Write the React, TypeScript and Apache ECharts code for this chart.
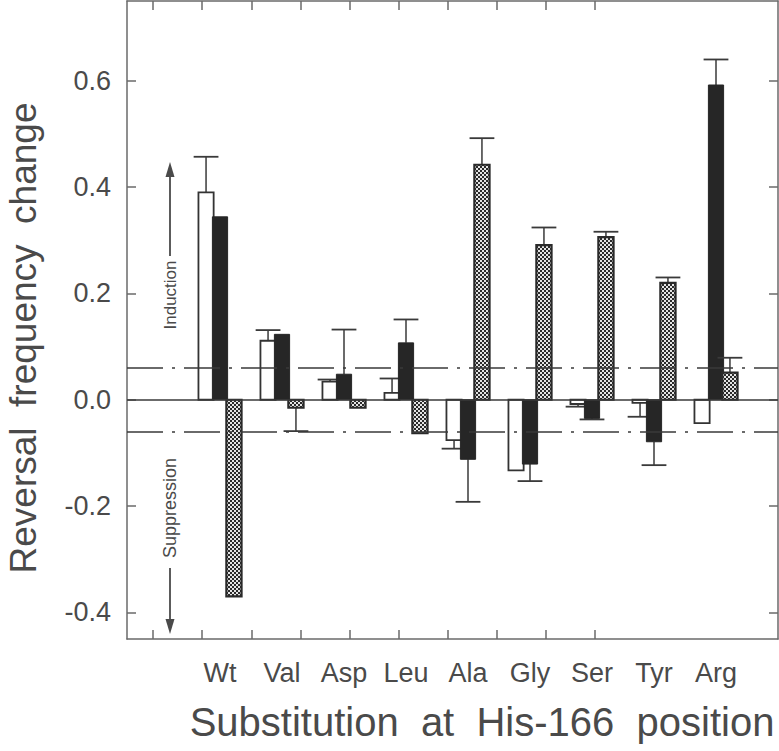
import React, { useEffect, useRef } from "react";
import * as echarts from "echarts";

const categories = ["Wt", "Val", "Asp", "Leu", "Ala", "Gly", "Ser", "Tyr", "Arg"];
const openValues = [0.39, 0.111, 0.034, 0.013, -0.076, -0.133, -0.008, -0.006, -0.044];
const openErrors = [0.067, 0.02, 0.004, 0.027, 0.016, null, 0.005, 0.026, null];
const solidValues = [0.344, 0.123, 0.048, 0.107, -0.112, -0.121, -0.035, -0.079, 0.592];
const solidErrors = [null, null, 0.084, 0.044, 0.08, 0.032, 0.002, 0.044, 0.048];
const hatchedValues = [-0.37, -0.015, -0.015, -0.063, 0.442, 0.291, 0.306, 0.22, 0.051];
const hatchedErrors = [null, 0.044, null, null, 0.05, 0.033, 0.01, 0.01, 0.028];
const yTickValues = [-0.4, -0.2, 0, 0.2, 0.4, 0.6];
const xTickPositions = [-0.08, 0.71, 1.51, 2.3, 3.09, 3.88, 4.68, 5.47, 6.26, 7.05];
const thresholds = [0.06, -0.06];

const FONT = "'Liberation Sans', Arial, sans-serif";
const TEXT = "#4a4a4a";
const AXIS = "#6a6a6a";
const DARK = "#262626";

function makePattern(): string {
  const c = document.createElement("canvas");
  c.width = 4;
  c.height = 4;
  const ctx = c.getContext("2d")!;
  ctx.fillStyle = "#2a2a2a";
  ctx.fillRect(0, 0, 4, 4);
  ctx.fillStyle = "#e4e4e4";
  ctx.fillRect(0, 0, 2, 2);
  ctx.fillRect(2, 2, 2, 2);
  return c.toDataURL();
}

const BAR_W = 0.245;
const CAP_W = 0.4;

function barSeries(
  name: string,
  values: number[],
  errors: (number | null)[],
  offset: number,
  fill: any,
  stroke: string,
  lineWidth: number
) {
  return {
    type: "custom",
    name,
    xAxisIndex: 0,
    yAxisIndex: 0,
    data: values.map((v, i) => [i + 1, v]),
    renderItem: (params: any, api: any) => {
      const x = api.value(0) + offset;
      const v = api.value(1);
      const p0 = api.coord([x, 0]);
      const p1 = api.coord([x, v]);
      const w = api.size([BAR_W, 0])[0];
      const capW = api.size([CAP_W, 0])[0];
      const children: any[] = [];
      const err = errors[params.dataIndex];
      if (err != null) {
        const pe = api.coord([x, v + Math.sign(v) * err]);
        children.push({
          type: "line",
          shape: { x1: p1[0], y1: p1[1], x2: pe[0], y2: pe[1] },
          style: { stroke: "#3a3a3a", lineWidth: 1.5 },
        });
        children.push({
          type: "line",
          shape: { x1: pe[0] - capW / 2, y1: pe[1], x2: pe[0] + capW / 2, y2: pe[1] },
          style: { stroke: "#3a3a3a", lineWidth: 1.8 },
        });
      }
      children.push({
        type: "rect",
        shape: {
          x: p0[0] - w / 2,
          y: Math.min(p0[1], p1[1]),
          width: w,
          height: Math.abs(p1[1] - p0[1]),
        },
        style: { fill, stroke, lineWidth },
      });
      return { type: "group", children };
    },
  };
}

export default function App() {
  const ref = useRef<HTMLDivElement>(null);
  useEffect(() => {
    if (!ref.current) return;
    const chart = echarts.init(ref.current, null, { renderer: "svg" });
    const pattern = { image: makePattern(), repeat: "repeat" };
    const axisLine = { show: true, onZero: false, lineStyle: { color: AXIS, width: 1.5 } };
    const tick = { show: true, inside: true, length: 9, lineStyle: { color: AXIS, width: 1.5 } };
    chart.setOption({
      animation: false,
      grid: { left: 127, right: 1, top: 1, bottom: 112, containLabel: false },
      xAxis: [
        {
          type: "value",
          min: -0.5,
          max: 10,
          position: "bottom",
          axisLine,
          axisTick: { ...tick, customValues: xTickPositions },
          axisLabel: {
            customValues: categories.map((_, i) => i + 1),
            formatter: (v: number) => categories[Math.round(v) - 1] ?? "",
            color: TEXT,
            fontFamily: FONT,
            fontSize: 27,
            margin: 20,
          },
          splitLine: { show: false },
        },
        {
          type: "value",
          min: -0.5,
          max: 10,
          position: "top",
          axisLine,
          axisTick: { ...tick, customValues: xTickPositions },
          axisLabel: { show: false },
          splitLine: { show: false },
        },
      ],
      yAxis: [
        {
          type: "value",
          min: -0.45,
          max: 0.75,
          position: "left",
          axisLine,
          axisTick: { ...tick, customValues: yTickValues },
          axisLabel: {
            customValues: yTickValues,
            formatter: (v: number) => v.toFixed(1),
            color: TEXT,
            fontFamily: FONT,
            fontSize: 27,
            margin: 16,
          },
          splitLine: { show: false },
        },
        {
          type: "value",
          min: -0.45,
          max: 0.75,
          position: "right",
          axisLine,
          axisTick: { ...tick, customValues: yTickValues },
          axisLabel: { show: false },
          splitLine: { show: false },
        },
      ],
      series: [
        {
          type: "line",
          data: [],
          xAxisIndex: 0,
          yAxisIndex: 0,
          markLine: {
            silent: true,
            symbol: ["none", "none"],
            label: { show: false },
            data: [
              { yAxis: 0, lineStyle: { type: "solid", color: "#3a3a3a", width: 1.5 } },
              ...thresholds.map((t) => ({
                yAxis: t,
                lineStyle: { type: [36, 9, 3, 9], color: "#3a3a3a", width: 1.5 },
              })),
            ],
          },
        },
        barSeries("open", openValues, openErrors, -0.225, "#ffffff", "#333333", 1.8),
        barSeries("solid", solidValues, solidErrors, 0, DARK, DARK, 1),
        barSeries("hatched", hatchedValues, hatchedErrors, 0.225, pattern, "#2a2a2a", 2.2),
      ],
      graphic: [
        {
          type: "text",
          x: 23,
          y: 338,
          rotation: Math.PI / 2,
          style: {
            text: "Reversal  frequency  change",
            fill: TEXT,
            font: `37px ${FONT}`,
            textAlign: "center",
            textVerticalAlign: "middle",
          },
        },
        {
          type: "text",
          x: 482,
          y: 722,
          style: {
            text: "Substitution  at  His-166  position",
            fill: TEXT,
            font: `40px ${FONT}`,
            textAlign: "center",
            textVerticalAlign: "middle",
          },
        },
        {
          type: "text",
          x: 170,
          y: 295,
          rotation: Math.PI / 2,
          style: {
            text: "Induction",
            fill: TEXT,
            font: `17px ${FONT}`,
            textAlign: "center",
            textVerticalAlign: "middle",
          },
        },
        {
          type: "text",
          x: 170,
          y: 508,
          rotation: Math.PI / 2,
          style: {
            text: "Suppression",
            fill: TEXT,
            font: `18px ${FONT}`,
            textAlign: "center",
            textVerticalAlign: "middle",
          },
        },
        {
          type: "line",
          shape: { x1: 170, y1: 256, x2: 170, y2: 174 },
          style: { stroke: TEXT, lineWidth: 1.8 },
        },
        {
          type: "polygon",
          shape: { points: [[165.5, 177], [174.5, 177], [170, 162]] },
          style: { fill: TEXT },
        },
        {
          type: "line",
          shape: { x1: 170, y1: 568, x2: 170, y2: 622 },
          style: { stroke: TEXT, lineWidth: 1.8 },
        },
        {
          type: "polygon",
          shape: { points: [[165.5, 619], [174.5, 619], [170, 634]] },
          style: { fill: TEXT },
        },
      ],
    });
    return () => chart.dispose();
  }, []);
  return (
    <div
      ref={ref}
      style={{ position: "fixed", left: 0, top: 0, width: 779, height: 751, background: "#fff" }}
    />
  );
}
